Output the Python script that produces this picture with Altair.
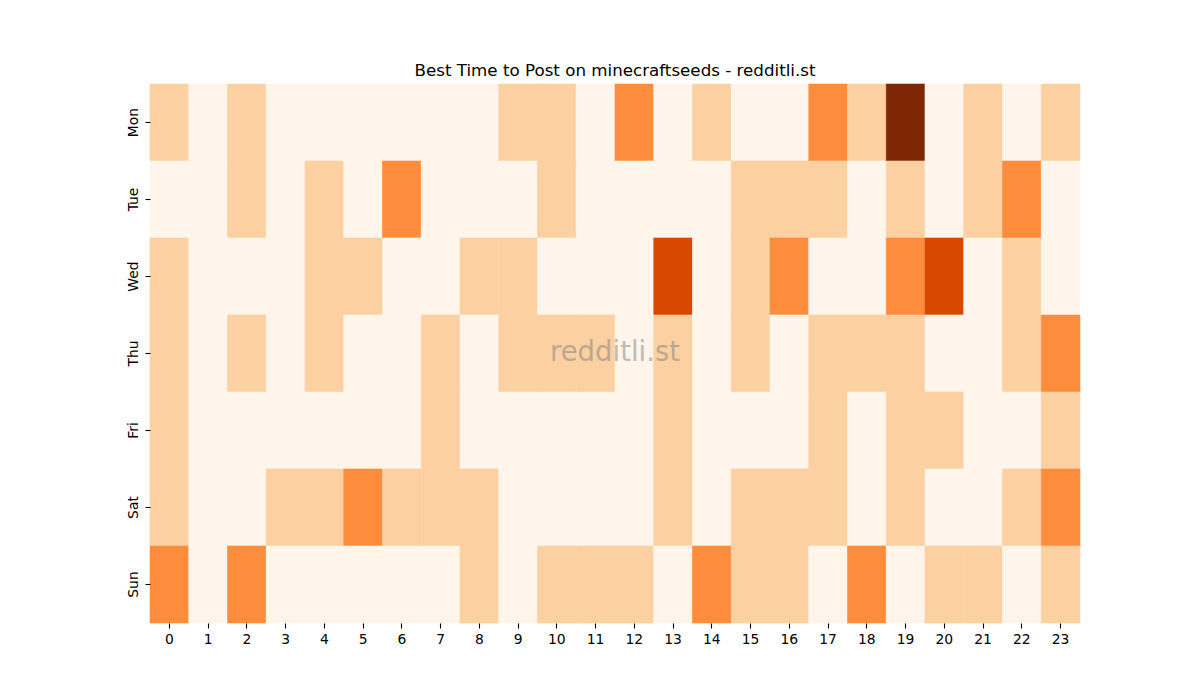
import altair as alt
import pandas as pd

days = ['Mon', 'Tue', 'Wed', 'Thu', 'Fri', 'Sat', 'Sun']
hours = list(range(24))

# activity level per hour (0-4), one list per weekday
mon = [1, 0, 1, 0, 0, 0, 0, 0, 0, 1, 1, 0, 2, 0, 1, 0, 0, 2, 1, 4, 0, 1, 0, 1]
tue = [0, 0, 1, 0, 1, 0, 2, 0, 0, 0, 1, 0, 0, 0, 0, 1, 1, 1, 0, 1, 0, 1, 2, 0]
wed = [1, 0, 0, 0, 1, 1, 0, 0, 1, 1, 0, 0, 0, 3, 0, 1, 2, 0, 0, 2, 3, 0, 1, 0]
thu = [1, 0, 1, 0, 1, 0, 0, 1, 0, 1, 1, 1, 0, 1, 0, 1, 0, 1, 1, 1, 0, 0, 1, 2]
fri = [1, 0, 0, 0, 0, 0, 0, 1, 0, 0, 0, 0, 0, 1, 0, 0, 0, 1, 0, 1, 1, 0, 0, 1]
sat = [1, 0, 0, 1, 1, 2, 1, 1, 1, 0, 0, 0, 0, 1, 0, 1, 1, 1, 0, 1, 0, 0, 1, 2]
sun = [2, 0, 2, 0, 0, 0, 0, 0, 1, 0, 1, 1, 1, 0, 2, 1, 1, 0, 2, 0, 1, 1, 0, 1]

levels = [0, 1, 2, 3, 4]
level_colors = ['#fff5eb', '#fdd0a2', '#fd8d3c', '#d94801', '#7f2704']

rows = []
for day, vals in zip(days, [mon, tue, wed, thu, fri, sat, sun]):
    for h, v in zip(hours, vals):
        rows.append({'day': day, 'hour': h, 'level': v})
df = pd.DataFrame(rows)

font = 'DejaVu Sans'
level_scale = alt.Scale(domain=levels, range=level_colors)

heat = alt.Chart(df).mark_rect(strokeWidth=0.6).encode(
    x=alt.X('hour:O', sort=hours, title=None,
            scale=alt.Scale(paddingInner=0, paddingOuter=0),
            axis=alt.Axis(labelAngle=0, domain=False, tickSize=5, tickWidth=1.1,
                          tickColor='black', labelColor='black', labelFontSize=13.9,
                          labelFont=font, labelPadding=4)),
    y=alt.Y('day:O', sort=days, title=None,
            scale=alt.Scale(paddingInner=0, paddingOuter=0),
            axis=alt.Axis(labelAngle=270, labelAlign='center', labelBaseline='bottom',
                          domain=False, tickSize=5, tickWidth=1.1, tickColor='black',
                          labelColor='black', labelFontSize=13.9, labelFont=font,
                          labelPadding=5)),
    color=alt.Color('level:O', scale=level_scale, legend=None),
    stroke=alt.Stroke('level:O', scale=level_scale, legend=None),
)

mark = alt.Chart(pd.DataFrame({'t': ['redditli.st']})).mark_text(
    font=font, fontSize=27.5, color='gray', opacity=0.5, align='center', baseline='middle'
).encode(text='t:N', x=alt.value(465), y=alt.value(269))

chart = alt.layer(heat, mark).properties(
    width=930, height=539,
    title=alt.TitleParams('Best Time to Post on minecraftseeds - redditli.st',
                          font=font, fontSize=16.7, fontWeight='normal',
                          color='black', anchor='middle', offset=4),
    autosize=alt.AutoSizeParams(type='none'),
    padding={'left': 142, 'top': 76, 'right': 112, 'bottom': 69},
).configure_view(stroke=None)

chart.save("out.html", embed_options={"renderer": "svg", "actions": False})
